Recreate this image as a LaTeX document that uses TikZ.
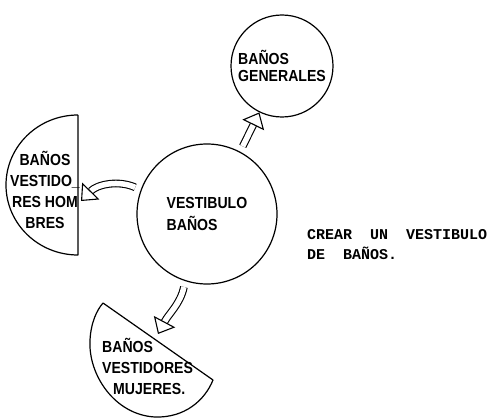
\documentclass[tikz,border=0pt]{standalone}
\usepackage{fontspec}
\setmainfont{Liberation Sans}[FakeStretch=0.88]
\newfontfamily\typewriter{Liberation Mono}
\usepackage{tikz}
\usetikzlibrary{shapes.geometric, arrows.meta, positioning}
\tikzset{
    sala/.style={circle, draw=black, line width=1.2pt, align=left, inner sep=0pt, font=\bfseries\fontsize{16}{22}\selectfont},
    rotulo/.style={align=left, inner sep=0pt, font=\bfseries\fontsize{16}{21}\selectfont},
    borde/.style={draw=black, line width=1.2pt, line join=round},
    flecha/.style={line width=1.1pt, double, double distance=5.5pt, -{Triangle[open, length=14pt, width=24pt]}, shorten <=6pt}
}

\begin{document}
\begin{tikzpicture}[x=1pt, y=1pt]
    \useasboundingbox (0,0) rectangle (491,-420);
    \node (vest) [sala, minimum size=140pt] at (207,-214) {VESTIBULO\\BAÑOS};
    \node (gen) [sala, minimum size=102pt, font=\bfseries\fontsize{16}{17}\selectfont] at (282,-66) {BAÑOS\\GENERALES};
    \node (hom) [rotulo, align=center] at (45,-190) {BAÑOS\\VESTIDO\_\\RES HOM\\BRES};
    \node (muj) [rotulo, anchor=west] at (102,-366) {BAÑOS\\VESTIDORES\\\hspace{11pt}MUJERES.};
    \node (nota) [anchor=west, inner sep=0pt, align=left, font=\typewriter\bfseries\fontsize{15}{20}\selectfont] at (307,-245) {CREAR~~UN~~VESTIBULO\\DE~~BAÑOS.};

    \coordinate (hom-in) at (81,-201);
    \coordinate (muj-in) at (158,-334);

    % contornos de los vestidores
    \draw [borde] (78,-115) -- (78,-255) arc[start angle=270, end angle=90, x radius=72, y radius=70];
    \draw [borde] (103,-303) -- (213,-380) .. controls (205,-400) and (185,-418) .. (155,-417) .. controls (115,-415) and (88,-375) .. (90,-340) .. controls (91,-322) and (97,-310) .. (103,-303);

    \draw [flecha] (vest.62) -- (gen.244);
    \draw [flecha] (vest.160) to[bend right=35] (hom-in);
    \draw [flecha] (vest.252) to[out=258, in=62] (muj-in);
\end{tikzpicture}
\end{document}
